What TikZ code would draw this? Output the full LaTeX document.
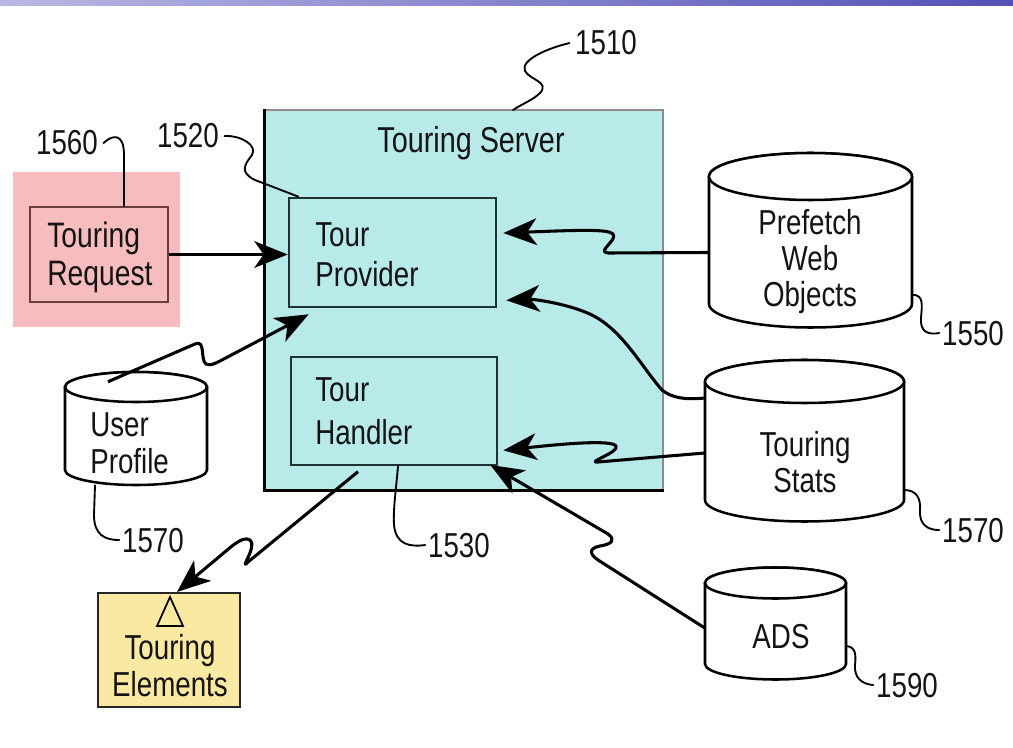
\documentclass[tikz,border=0pt]{standalone}
\usepackage{fontspec}
\setmainfont{Liberation Sans}[FakeStretch=0.8]
\usetikzlibrary{arrows.meta,fit,calc}
\definecolor{srvcyan}{RGB}{184,234,234}
\definecolor{reqpink}{RGB}{246,188,190}
\definecolor{elyellow}{RGB}{249,233,162}
\definecolor{barlight}{RGB}{184,184,228}
\definecolor{barmid}{RGB}{150,145,212}
\definecolor{bardark}{RGB}{86,80,182}
\definecolor{boxline}{RGB}{30,50,50}
\definecolor{reqline}{RGB}{105,60,62}
\newcommand\dbcyl[5]{%
  \filldraw[cylst] (#1-#4,#2) -- (#1-#4,#3)
    arc[start angle=180,end angle=0,x radius=#4,y radius=#5]
    -- (#1+#4,#2)
    arc[start angle=0,end angle=-180,x radius=#4,y radius=#5] -- cycle;
  \draw[cylst] (#1,#2) ellipse[x radius=#4,y radius=#5];}
\tikzset{
  txt/.style={inner sep=0pt, text=black!92},
  lbl/.style={inner sep=0pt, text=black!92, font=\fontsize{26}{28}\selectfont},
  arr/.style={line width=2.3pt, line join=round, -{Stealth[length=25pt,width=20pt,inset=7pt]}},
  lead/.style={line width=1.4pt, line cap=round},
  cylst/.style={line width=1.9pt, fill=white, draw=black},
  innerbox/.style={draw=boxline, line width=2pt, inner sep=0pt},
  area/.style={inner sep=0pt},
}
\begin{document}
\begin{tikzpicture}[x=0.75pt,y=-0.75pt]
\useasboundingbox (0,0) rectangle (1013,748);
% top bar
\shade[left color=barlight, middle color=barmid, right color=bardark] (0,0) rectangle (1013,6);

% touring request
\node[area, fill=reqpink, fit={(13,172) (180,327)}] (reqbg) {};
\node[area, draw=reqline, line width=1.6pt, fit={(30,207) (168,302)}] (request) {};
\node[txt, align=left, anchor=west, font=\fontsize{26.5}{28.5}\selectfont] (reqtext) at (47,257) {Touring\\Request};

% server
\node[area, fill=srvcyan, draw=black!45, line width=0.8pt, fit={(265,110) (663,490)}] (server) {};
\draw[line width=2.2pt] (server.north west) -- (server.south west) -- (server.south east);
\node[txt, anchor=base, font=\fontsize{27}{30}\selectfont] (srvtitle) at (471,153) {Touring Server};

\node[innerbox, fit={(289,198) (496,307)}] (provider) {};
\node[txt, align=left, anchor=west, font=\fontsize{26}{30}\selectfont] (provtext) at (315,254.5) {Tour\\Provider};
\node[innerbox, fit={(291,357) (497,465)}] (handler) {};
\node[txt, align=left, anchor=west, font=\fontsize{26}{32}\selectfont] (handtext) at (315,411) {Tour\\Handler};

% cylinders
\dbcyl{810.5}{176.5}{304}{101.5}{23.5}
\node[area, fit={(709,153) (912,327)}] (prefetch) {};
\node[txt, align=center, font=\fontsize{26}{27}\selectfont] (preftext) at (810,262) {Prefetch\\Web\\Objects};

\dbcyl{804.5}{381.5}{500}{99.5}{21.5}
\node[area, fit={(705,360) (904,522)}] (stats) {};
\node[txt, align=center, font=\fontsize{26}{27}\selectfont] (statstext) at (805,462) {Touring\\Stats};

\dbcyl{775.5}{583}{664}{70.5}{15.5}
\node[area, fit={(705,568) (846,680)}] (ads) {};
\node[txt, anchor=base, font=\fontsize{26}{28}\selectfont] (adstext) at (781,648) {ADS};

\dbcyl{136}{387}{470}{71}{15}
\node[area, fit={(65,372) (207,485)}] (user) {};
\node[txt, align=left, anchor=west, font=\fontsize{26}{27.75}\selectfont] (usertext) at (90,443) {User\\Profile};

% touring elements
\node[area, fill=elyellow, draw=black!85, line width=1.5pt, fit={(98,593) (240,707)}] (elements) {};
\draw[line width=1.3pt] (170,597) -- (157,626) -- (183,626) -- cycle;
\node[txt, align=center, font=\fontsize{26}{27.75}\selectfont] (eltext) at (170,666) {Touring\\Elements};

% reference labels
\node[lbl, anchor=base] (l1510) at (606,55) {1510};
\node[lbl, anchor=base] (l1560) at (67,155) {1560};
\node[lbl, anchor=base] (l1520) at (188,148) {1520};
\node[lbl, anchor=base] (l1550) at (973,345) {1550};
\node[lbl, anchor=base] (l1570r) at (973,542) {1570};
\node[lbl, anchor=base] (l1590) at (907,697) {1590};
\node[lbl, anchor=base] (l1570l) at (153,552) {1570};
\node[lbl, anchor=base] (l1530) at (459,557) {1530};

% leaders
\draw[lead] ([xshift=-4pt]l1510.west) .. controls (548,48) and (520,60) .. (525,71)
  .. controls (530,80) and (550,82) .. (540,93) .. controls (533,100) and (522,104) .. (513,110);
\draw[lead] ([xshift=4pt]l1560.east) .. controls (112,135) and (124,132) .. (124,155) -- (request.north -| 124,0);
\draw[lead] ([xshift=4pt]l1520.east) .. controls (240,135) and (258,145) .. (252,155)
  .. controls (246,163) and (238,172) .. (255,180) -- ([xshift=8pt]provider.north west);
\draw[lead] ([yshift=-41pt]prefetch.east) .. controls (924,295) and (922,305) .. (921,318)
  .. controls (920,332) and (928,335) .. ([xshift=-2pt]l1550.west);
\draw[lead] ([yshift=-36.75pt]stats.east) .. controls (916,490) and (921,498) .. (920,510)
  .. controls (919,525) and (928,530) .. ([xshift=-2pt]l1570r.west);
\draw[lead] ([yshift=-16.5pt]ads.east) .. controls (856,647) and (856,655) .. (855,665)
  .. controls (854,678) and (862,684) .. ([xshift=-2pt]l1590.west);
\draw[lead] ([xshift=-30.75pt]user.south) -- (94,515) .. controls (94,535) and (105,540) .. ([xshift=-2pt]l1570l.west);
\draw[lead] ([xshift=3pt]handler.south) .. controls (396,490) and (393,510) .. (394,525)
  .. controls (396,545) and (410,547) .. ([xshift=-2pt]l1530.west);

% connectors
\draw[arr] (request.east) -- (request.east -| provider.west);
\draw[arr] ([xshift=-21pt,yshift=-7.5pt]user.north) -- (195,344)
  .. controls (206,339) and (200,360) .. (206,364) .. controls (210,366) and (214,364) .. (220,361)
  -- ([xshift=15.75pt,yshift=-4.5pt]provider.south west);
\draw[arr] (prefetch.west |- provider.east) -- (608,253)
  .. controls (596,252) and (618,240) .. (613,234)
  .. controls (608,229) and (580,230) .. ([xshift=4.5pt,yshift=14.6pt]provider.east);
\draw[arr] ([yshift=32.25pt]stats.west) .. controls (685,400) and (672,398) .. (662,390)
  .. controls (640,365) and (620,325) .. (585,312)
  .. controls (560,302) and (530,299) .. ([xshift=6.75pt,yshift=6pt]provider.south east);
\draw[arr] ([yshift=-9pt]stats.west) -- (598,462)
  .. controls (585,463) and (620,452) .. (616,446)
  .. controls (612,440) and (570,443) .. ([xshift=3.75pt,yshift=12pt]handler.south east);
\draw[arr] ([yshift=-3pt]ads.west) -- (598,560)
  .. controls (588,553) and (590,548) .. (600,546)
  .. controls (612,544) and (616,540) .. (608,534)
  -- ([xshift=-6pt,yshift=1pt]handler.south east);
\draw[arr] ([xshift=-27pt,yshift=-4pt]handler.south) -- (248,562)
  .. controls (238,572) and (258,546) .. (250,540)
  .. controls (246,537) and (240,540) .. (232,546)
  -- ([xshift=6pt]elements.north);
\end{tikzpicture}
\end{document}
